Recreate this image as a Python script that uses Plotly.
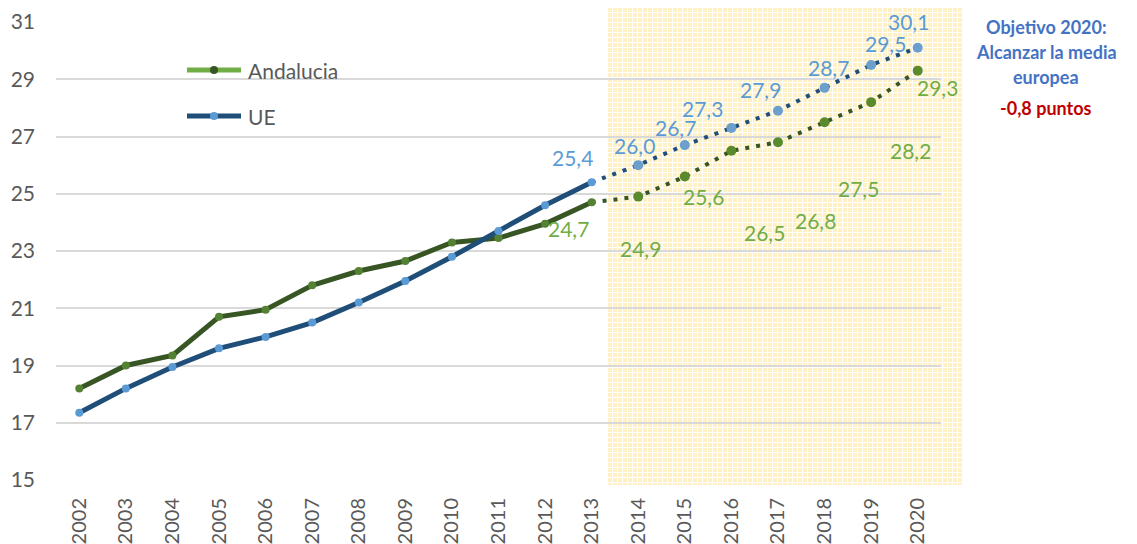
import base64
import plotly.graph_objects as go

# ---------------- data ----------------
years_hist = [2002, 2003, 2004, 2005, 2006, 2007, 2008, 2009, 2010, 2011, 2012, 2013]
andalucia_hist = [18.2, 19.0, 19.35, 20.7, 20.95, 21.8, 22.3, 22.65, 23.3, 23.45, 23.95, 24.7]
ue_hist = [17.35, 18.2, 18.95, 19.6, 20.0, 20.5, 21.2, 21.95, 22.8, 23.7, 24.6, 25.4]

years_proj = [2014, 2015, 2016, 2017, 2018, 2019, 2020]
andalucia_proj = [24.9, 25.6, 26.5, 26.8, 27.5, 28.2, 29.3]
ue_proj = [26.0, 26.7, 27.3, 27.9, 28.7, 29.5, 30.1]

year_labels = [str(y) for y in range(2002, 2021)]
y_ticks = [15, 17, 19, 21, 23, 25, 27, 29, 31]

series_names = ["Andalucia", "UE"]
note_lines = ["Objetivo 2020:", "Alcanzar la media", "europea"]
note_gap = "-0,8 puntos"

# ---------------- styles ----------------
FONT = "Lato"
GREY = "#595959"
UE_LINE = "#1F4E79"
UE_MARK = "#5B9BD5"
UE_PROJ_MARK = "#6C9FCB"
UE_LABEL = "#5B9BD5"
AN_LINE = "#375623"
AN_MARK = "#548235"
AN_PROJ_MARK = "#5B8A2C"
AN_LABEL = "#70AD47"
AN_LEGEND_LINE = "#70AD47"

# label offsets in px (style only): (xshift, yshift)
ue_label_off = [(-19, 25), (-4, 20), (-9, 18), (-29, 19), (-17, 21), (4, 20), (14, 21), (-9, 26)]
an_label_off = [(-23, -26), (2, -52), (19, -20), (33, -82), (38, -78), (34, -66), (39, -48), (20, -17)]

fig = go.Figure()

# Andalucia
fig.add_trace(go.Scatter(
    x=[years_hist[-1]] + years_proj, y=[andalucia_hist[-1]] + andalucia_proj,
    mode="lines", line=dict(color=AN_LINE, width=4, dash="4px,7px"),
    showlegend=False, hoverinfo="skip"))
fig.add_trace(go.Scatter(
    x=years_proj, y=andalucia_proj, mode="markers",
    marker=dict(color=AN_PROJ_MARK, size=10), showlegend=False))
fig.add_trace(go.Scatter(
    x=years_hist, y=andalucia_hist, mode="lines+markers", name=series_names[0],
    line=dict(color=AN_LINE, width=5), marker=dict(color=AN_MARK, size=8),
    showlegend=False))

# UE
fig.add_trace(go.Scatter(
    x=[years_hist[-1]] + years_proj, y=[ue_hist[-1]] + ue_proj,
    mode="lines", line=dict(color=UE_LINE, width=4, dash="4px,7px"),
    showlegend=False, hoverinfo="skip"))
fig.add_trace(go.Scatter(
    x=years_proj, y=ue_proj, mode="markers",
    marker=dict(color=UE_PROJ_MARK, size=10), showlegend=False))
fig.add_trace(go.Scatter(
    x=years_hist, y=ue_hist, mode="lines+markers", name=series_names[1],
    line=dict(color=UE_LINE, width=5), marker=dict(color=UE_MARK, size=8),
    showlegend=False))

annotations = []
lab_years = [years_hist[-1]] + years_proj
ue_lab_vals = [ue_hist[-1]] + ue_proj
an_lab_vals = [andalucia_hist[-1]] + andalucia_proj
for x, v, (dx, dy) in zip(lab_years, ue_lab_vals, ue_label_off):
    annotations.append(dict(x=x, y=v, xref="x", yref="y", text=f"{v:.1f}".replace(".", ","),
                            showarrow=False, xshift=dx, yshift=dy,
                            font=dict(family=FONT, size=21, color=UE_LABEL)))
for x, v, (dx, dy) in zip(lab_years, an_lab_vals, an_label_off):
    annotations.append(dict(x=x, y=v, xref="x", yref="y", text=f"{v:.1f}".replace(".", ","),
                            showarrow=False, xshift=dx, yshift=dy,
                            font=dict(family=FONT, size=21, color=AN_LABEL)))

# geometry: page body has an 8px margin, so the figure starts at (8, 8) on screen
OFF = 8
W, H = 1137 - OFF, 544 - OFF
ML, MT = 56 - OFF, 22 - OFF
PW, PH = 885, 458
MR = W - ML - PW
MB = H - MT - PH


def px(xs):
    """screen x -> paper x"""
    return (xs - OFF - ML) / PW


def py(ys):
    """screen y -> paper y"""
    return (MT + PH - (ys - OFF)) / PH


# manual legend
shapes = []
leg = [(series_names[0], 70, AN_LEGEND_LINE, AN_LINE), (series_names[1], 116, UE_LINE, UE_MARK)]
for name, yy, lc, mc in leg:
    shapes.append(dict(type="line", xref="paper", yref="paper", x0=px(187), x1=px(241),
                       y0=py(yy), y1=py(yy), line=dict(color=lc, width=5)))
    shapes.append(dict(type="circle", xref="paper", yref="paper",
                       x0=px(210), x1=px(218), y0=py(yy + 4), y1=py(yy - 4),
                       fillcolor=mc, line=dict(width=0)))
    annotations.append(dict(x=px(246), y=py(yy), xref="paper", yref="paper", text=name,
                            xanchor="left", yanchor="middle", showarrow=False,
                            font=dict(family=FONT, size=21, color=GREY)))

# right-hand note
for txt, yy in zip(note_lines, [27, 52, 77]):
    annotations.append(dict(x=px(1046), y=py(yy), xref="paper", yref="paper", text=f"<b>{txt}</b>",
                            showarrow=False, xanchor="center", yanchor="middle",
                            font=dict(family=FONT, size=18, color="#4472C4")))
annotations.append(dict(x=px(1046), y=py(108), xref="paper", yref="paper", text=f"<b>{note_gap}</b>",
                        showarrow=False, xanchor="center", yanchor="middle",
                        font=dict(family=FONT, size=18, color="#C00000")))

# shaded projection area (patterned image), screen coordinates
sx0, sx1, sy0, sy1 = 608, 963, 8, 485
sw, sh = sx1 - sx0, sy1 - sy0
svg = (f'<svg xmlns="http://www.w3.org/2000/svg" width="{sw}" height="{sh}" viewBox="0 0 {sw} {sh}">'
       '<defs><pattern id="p" width="5" height="5" patternUnits="userSpaceOnUse">'
       '<rect width="4" height="4" fill="#FFF0C6"/></pattern></defs>'
       f'<rect width="{sw}" height="{sh}" fill="#FFFFFF"/>'
       f'<rect width="{sw}" height="{sh}" fill="url(#p)"/></svg>')
src = "data:image/svg+xml;base64," + base64.b64encode(svg.encode()).decode()

fig.update_layout(
    width=W, height=H,
    margin=dict(l=ML, r=MR, t=MT, b=MB),
    paper_bgcolor="white", plot_bgcolor="rgba(0,0,0,0)",
    showlegend=False,
    annotations=annotations, shapes=shapes,
    images=[dict(source=src, xref="paper", yref="paper", x=px(sx0), y=py(sy0),
                 sizex=sw / PW, sizey=sh / PH, sizing="stretch", xanchor="left",
                 yanchor="top", layer="below")],
    xaxis=dict(range=[2001.5, 2020.5], tickmode="array",
               tickvals=list(range(2002, 2021)), ticktext=year_labels,
               tickangle=-90, showgrid=False, zeroline=False, showline=False,
               ticks="", ticklabelstandoff=13, automargin=False,
               tickfont=dict(family=FONT, size=20, color=GREY)),
    yaxis=dict(range=[15, 31], tickmode="array", tickvals=y_ticks,
               showgrid=True, gridcolor="#D9D9D9", gridwidth=1.5,
               zeroline=False, showline=False, ticks="", ticklabelstandoff=20,
               automargin=False,
               tickfont=dict(family=FONT, size=21, color=GREY)),
)
for tr in fig.data:
    tr.cliponaxis = False

fig.write_html("out.html")
